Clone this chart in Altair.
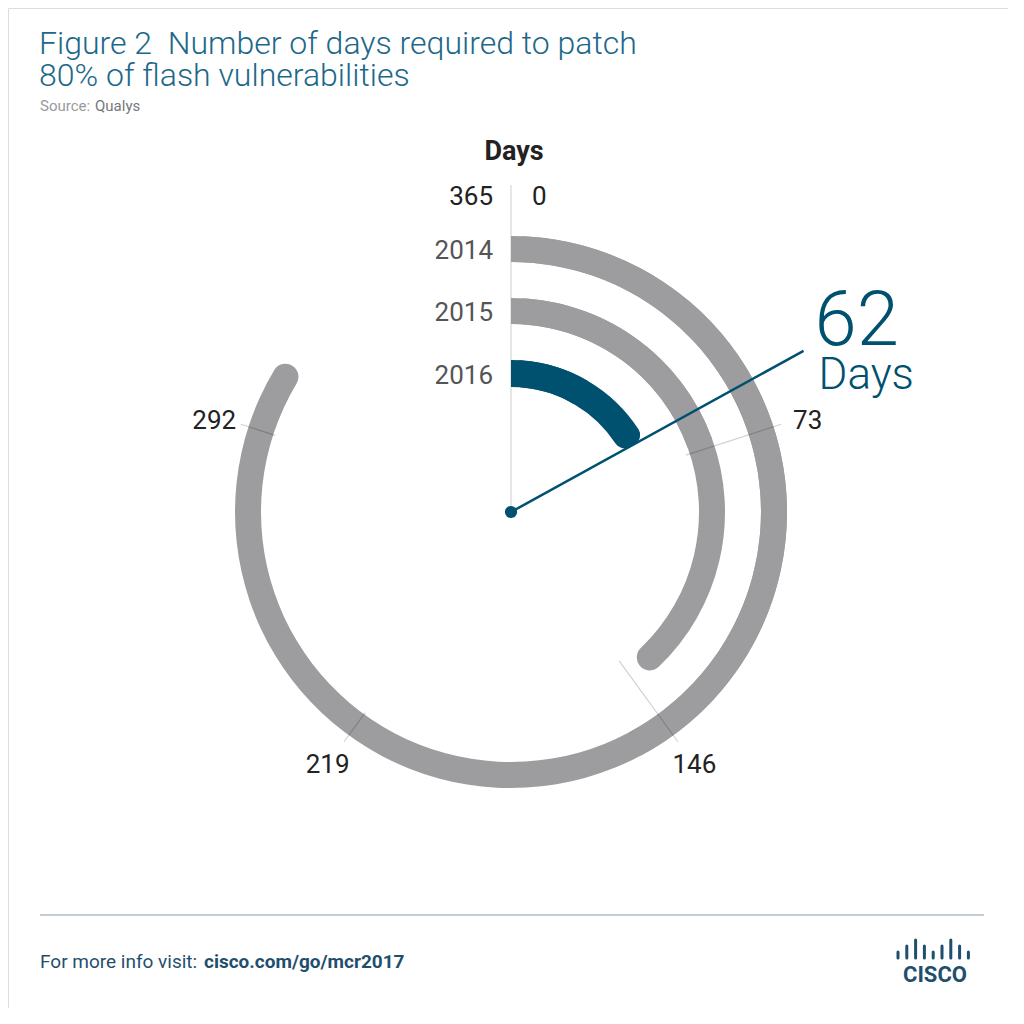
import altair as alt
import pandas as pd

# ---- data ----
years = ["2014", "2015", "2016"]
days = [308, 142, 62]
tick_days = [73, 146, 219, 292]
tick_labels = ["73", "146", "219", "292"]
logo_heights = [1, 2, 3, 2, 1, 2, 3, 2, 1]

# ---- layout constants (view pixel coordinates; page = view + 8) ----
CX, CY = 503, 504
RADII = {"2014": (250, 276), "2015": (188, 214), "2016": (125, 152)}
COLORS = {"2014": "#9d9d9f", "2015": "#9d9d9f", "2016": "#00506f"}
DARK = "#00506f"
TITLE = "#1d6889"
FOOT = "#1f4f6e"
FONT = "Roboto"

df = pd.DataFrame({"year": years, "days": days})
ticks = pd.DataFrame({"days": tick_days, "label": tick_labels})
logo = pd.DataFrame({"i": list(range(len(logo_heights))), "h": logo_heights})

theta_scale = alt.Scale(domain=[0, 365], range=[0, 6.283185307179586])
TWO_PI_365 = "(2*PI/365)"

layers = []

# zero / 365 reference line
layers.append(
    alt.Chart(df).transform_filter(alt.datum.year == "2014")
    .mark_rule(color="#dedede", strokeWidth=1.5)
    .encode(x=alt.value(CX), y=alt.value(177), y2=alt.value(CY))
)

# arcs
for yr in years:
    r_in, r_out = RADII[yr]
    col = COLORS[yr]
    cr = 13 if yr != "2016" else 10
    sub = alt.Chart(df).transform_filter(alt.datum.year == yr)
    layers.append(
        sub.mark_arc(radius=r_out, radius2=r_in, cornerRadius=cr, color=col)
        .encode(
            theta=alt.Theta("days:Q", scale=theta_scale, stack=None),
            theta2=alt.value(0),
            x=alt.value(CX), y=alt.value(CY),
        )
    )
    # flat start of the bar
    layers.append(
        sub.transform_calculate(half="datum.days / 2")
        .mark_arc(radius=r_out, radius2=r_in, color=col)
        .encode(
            theta=alt.Theta("half:Q", scale=theta_scale, stack=None),
            theta2=alt.value(0),
            x=alt.value(CX), y=alt.value(CY),
        )
    )
    # year label
    layers.append(
        sub.mark_text(align="right", baseline="middle", font=FONT, fontSize=26,
                      color="#555555", dy=2)
        .encode(text="year:N", x=alt.value(485),
                y=alt.value(CY - (r_in + r_out) / 2))
    )

# tick rules across the bars
tick_rules = (
    alt.Chart(ticks)
    .transform_calculate(
        a=f"datum.days * {TWO_PI_365}",
        rin="datum.days <= 146 ? 184 : 248",
        rout="284",
    )
    .transform_calculate(
        x1=f"{CX} + datum.rin * sin(datum.a)",
        y1=f"{CY} - datum.rin * cos(datum.a)",
        x2=f"{CX} + datum.rout * sin(datum.a)",
        y2=f"{CY} - datum.rout * cos(datum.a)",
    )
    .mark_rule(color="#000000", opacity=0.18, strokeWidth=1.2)
    .encode(
        x=alt.X("x1:Q", scale=None, axis=None),
        y=alt.Y("y1:Q", scale=None, axis=None),
        x2="x2:Q", y2="y2:Q",
    )
)
layers.append(tick_rules)

tick_text = (
    alt.Chart(ticks)
    .transform_calculate(a=f"datum.days * {TWO_PI_365}")
    .transform_calculate(
        tx=f"{CX} + 312 * sin(datum.a)",
        ty=f"{CY} - 308 * cos(datum.a)",
    )
    .mark_text(align="center", baseline="middle", font=FONT, fontSize=26, color="#222222", dy=4)
    .encode(x=alt.X("tx:Q", scale=None, axis=None),
            y=alt.Y("ty:Q", scale=None, axis=None), text="label:N")
)
layers.append(tick_text)

# top labels
top = alt.Chart(df).transform_filter(alt.datum.year == "2014")
layers.append(top.mark_text(text="Days", align="center", baseline="alphabetic", font=FONT,
                            fontSize=27, fontWeight="bold", color="#222222")
              .encode(x=alt.value(CX + 3), y=alt.value(152)))
layers.append(top.mark_text(text="365", align="right", baseline="alphabetic", font=FONT,
                            fontSize=26, color="#222222")
              .encode(x=alt.value(485), y=alt.value(197)))
layers.append(top.mark_text(text="0", align="left", baseline="alphabetic", font=FONT,
                            fontSize=26, color="#222222")
              .encode(x=alt.value(524), y=alt.value(197)))

# annotation for latest year
latest = (
    alt.Chart(df).transform_filter(alt.datum.year == "2016")
    .transform_calculate(a=f"datum.days * {TWO_PI_365}")
    .transform_calculate(
        x0=f"{CX}", y0=f"{CY}",
        xe=f"{CX} + 334 * sin(datum.a)",
        ye=f"{CY} - 334 * cos(datum.a)",
    )
)
layers.append(
    latest.mark_rule(color=DARK, strokeWidth=2.5)
    .encode(x=alt.X("x0:Q", scale=None, axis=None), y=alt.Y("y0:Q", scale=None, axis=None),
            x2="xe:Q", y2="ye:Q")
)
layers.append(
    latest.mark_point(filled=True, size=150, color=DARK, opacity=1)
    .encode(x=alt.X("x0:Q", scale=None, axis=None), y=alt.Y("y0:Q", scale=None, axis=None))
)
layers.append(
    latest.mark_text(align="left", baseline="alphabetic", font=FONT, fontSize=76,
                     fontWeight=300, color=DARK, dx=11, dy=-6)
    .encode(x=alt.X("xe:Q", scale=None, axis=None), y=alt.Y("ye:Q", scale=None, axis=None),
            text="days:Q")
)
layers.append(
    latest.mark_text(text="Days", align="left", baseline="alphabetic", font=FONT,
                     fontSize=44, fontWeight=300, color=DARK, dx=15, dy=38)
    .encode(x=alt.X("xe:Q", scale=None, axis=None), y=alt.Y("ye:Q", scale=None, axis=None))
)

# title, source, footer
layers.append(top.mark_text(text="Figure 2\u00a0 Number of days required to patch", align="left",
                            baseline="alphabetic", font=FONT, fontSize=32, fontWeight=300,
                            color=TITLE).encode(x=alt.value(31), y=alt.value(46)))
layers.append(top.mark_text(text="80% of flash vulnerabilities", align="left",
                            baseline="alphabetic", font=FONT, fontSize=32, fontWeight=300,
                            color=TITLE).encode(x=alt.value(31), y=alt.value(78)))
layers.append(top.mark_text(text="Source:", align="left", baseline="alphabetic", font=FONT,
                            fontSize=15, color="#9a9a9a")
              .encode(x=alt.value(32), y=alt.value(103)))
layers.append(top.mark_text(text="Qualys", align="left", baseline="alphabetic", font=FONT,
                            fontSize=15, color="#777777")
              .encode(x=alt.value(87), y=alt.value(103)))

layers.append(top.mark_rule(color="#8a9bb0", strokeWidth=1)
              .encode(x=alt.value(32), x2=alt.value(976), y=alt.value(907)))
layers.append(top.mark_text(text="For more info visit:", align="left", baseline="alphabetic",
                            font=FONT, fontSize=19, color=FOOT)
              .encode(x=alt.value(32), y=alt.value(960)))
layers.append(top.mark_text(text="cisco.com/go/mcr2017", align="left", baseline="alphabetic",
                            font=FONT, fontSize=19, fontWeight="bold", color=FOOT)
              .encode(x=alt.value(196), y=alt.value(960)))

# cisco logo
layers.append(
    alt.Chart(logo)
    .transform_calculate(lx="890 + datum.i * 8.8", ly="950", lt="950 - datum.h * 6")
    .mark_rule(color=FOOT, strokeWidth=3, strokeCap="round")
    .encode(x=alt.X("lx:Q", scale=None, axis=None), y=alt.Y("ly:Q", scale=None, axis=None),
            y2="lt:Q")
)
layers.append(top.mark_text(text="CISCO", align="center", baseline="alphabetic", font=FONT,
                            fontSize=22, fontWeight="bold", color=FOOT)
              .encode(x=alt.value(927), y=alt.value(974)))

chart = (
    alt.layer(*layers)
    .properties(width=1000, height=1000, autosize=alt.AutoSizeParams(type="none"), padding=0)
    .configure_view(strokeWidth=0, stroke="transparent")
    .configure(background="transparent")
)

chart.save("out.html", embed_options={"renderer": "svg", "actions": False})
